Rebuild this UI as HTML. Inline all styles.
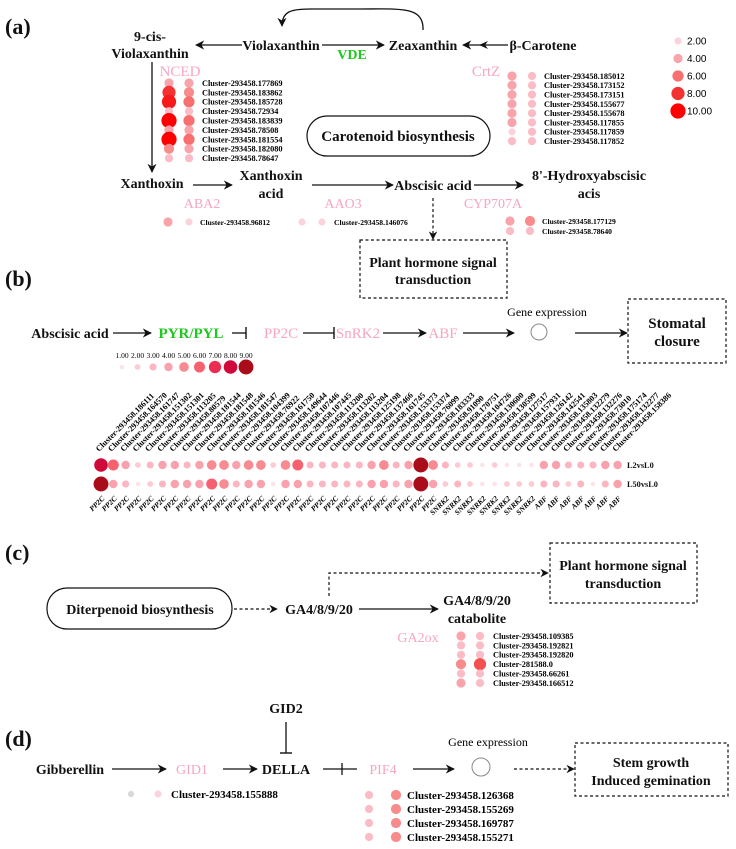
<!DOCTYPE html>
<html><head><meta charset="utf-8">
<style>
html,body{margin:0;padding:0;background:#fff;}
svg{display:block;font-family:"Liberation Serif",serif;}
.t{font-weight:bold;font-size:14px;fill:#111;text-anchor:middle;}
.p{font-size:14px;fill:#f7a6bf;text-anchor:middle;}
.g{font-weight:bold;font-size:14px;fill:#1ec81e;text-anchor:middle;}
.lab{font-weight:bold;font-size:22px;fill:#111;}
.cl{font-weight:bold;font-size:8.3px;fill:#111;}
.ln{stroke:#111;stroke-width:1.3;fill:none;}
.ds{stroke:#111;stroke-width:1.2;fill:none;stroke-dasharray:3,2.5;}
</style></head>
<body>
<svg id="fig" width="736" height="849" viewBox="0 0 736 849" xmlns="http://www.w3.org/2000/svg">
<defs>
<marker id="ah" viewBox="0 0 10 10" refX="9" refY="5" markerWidth="7" markerHeight="7" orient="auto-start-reverse"><path d="M0,0 L10,5 L0,10 L3,5 z" fill="#111"/></marker>
<marker id="bar" viewBox="0 0 4 12" refX="2" refY="6" markerWidth="4" markerHeight="12" markerUnits="userSpaceOnUse" orient="auto"><line x1="2" y1="0" x2="2" y2="12" stroke="#111" stroke-width="1.4"/></marker>
</defs>

<!-- (a) -->
<text class="lab" x="5" y="34">(a)</text>
<text class="t" x="150" y="41">9-cis-</text>
<text class="t" x="150" y="58">Violaxanthin</text>
<line class="ln" x1="242" y1="45" x2="196" y2="45" marker-end="url(#ah)"/>
<text class="t" x="281" y="50">Violaxanthin</text>
<line class="ln" x1="322" y1="45" x2="384" y2="45" marker-end="url(#ah)"/>
<text class="g" x="352" y="59">VDE</text>
<text class="t" x="423" y="50">Zeaxanthin</text>
<path class="ln" d="M423,30 C424,6 400,9 360,9 L310,9 C290,9 282,12 282,26" marker-end="url(#ah)"/>
<line class="ln" x1="508" y1="45" x2="463" y2="45" marker-end="url(#ah)"/>
<path d="M479,45 l9,-4 l-3,4 l3,4z" fill="#111"/>
<text class="t" x="543" y="50">β-Carotene</text>
<text class="p" x="180" y="76" style="font-size:15px">NCED</text>
<text class="p" x="486" y="76" style="font-size:15px">CrtZ</text>
<line class="ln" x1="152" y1="62" x2="152" y2="172" marker-end="url(#ah)"/>
<rect x="307" y="116" width="183" height="40" rx="20" fill="none" stroke="#111" stroke-width="1.2"/>
<text class="t" x="398" y="141" style="font-size:15px">Carotenoid biosynthesis</text>
<text class="t" x="152" y="188">Xanthoxin</text>
<line class="ln" x1="193" y1="185" x2="232" y2="185" marker-end="url(#ah)"/>
<text class="t" x="271" y="180">Xanthoxin</text>
<text class="t" x="271" y="198">acid</text>
<line class="ln" x1="312" y1="185" x2="393" y2="185" marker-end="url(#ah)"/>
<text class="t" x="433" y="190">Abscisic acid</text>
<line class="ln" x1="474" y1="185" x2="523" y2="185" marker-end="url(#ah)"/>
<text class="t" x="589" y="180">8'-Hydroxyabscisic</text>
<text class="t" x="589" y="198">acis</text>
<text class="p" x="202" y="208">ABA2</text>
<text class="p" x="343" y="208">AAO3</text>
<text class="p" x="493" y="208">CYP707A</text>
<line class="ds" x1="433" y1="198" x2="433" y2="239" marker-end="url(#ah)"/>
<rect class="ds" x="360" y="240" width="147" height="58"/>
<text class="t" x="433" y="267">Plant hormone signal</text>
<text class="t" x="433" y="284">transduction</text>

<!-- (b) -->
<text class="lab" x="5" y="286">(b)</text>
<text class="t" x="70" y="338">Abscisic acid</text>
<line class="ln" x1="113" y1="333" x2="151" y2="333" marker-end="url(#ah)"/>
<text class="g" x="191" y="338" style="font-size:15px">PYR/PYL</text>
<line class="ln" x1="232" y1="333" x2="246" y2="333" marker-end="url(#bar)"/>
<text class="p" x="281" y="338" style="font-size:15px">PP2C</text>
<line class="ln" x1="303" y1="333" x2="334" y2="333" marker-end="url(#bar)"/>
<text class="p" x="358" y="338" style="font-size:15px">SnRK2</text>
<line class="ln" x1="383" y1="333" x2="426" y2="333" marker-end="url(#ah)"/>
<text class="p" x="443" y="338" style="font-size:15px">ABF</text>
<line class="ln" x1="463" y1="333" x2="514" y2="333" marker-end="url(#ah)"/>
<text x="547" y="316" style="font-size:12px;text-anchor:middle">Gene expression</text>
<circle cx="539" cy="332" r="8" fill="none" stroke="#888"/>
<line class="ln" x1="575" y1="333" x2="627" y2="333" marker-end="url(#ah)"/>
<rect class="ds" x="628" y="299" width="98" height="64"/>
<text class="t" x="677" y="328" style="font-size:15px">Stomatal</text>
<text class="t" x="677" y="346" style="font-size:15px">closure</text>
<text class="cl" x="627" y="468">L2vsL0</text>
<text class="cl" x="627" y="487">L50vsL0</text>
<g id="bgrid"></g>

<!-- (c) -->
<text class="lab" x="5" y="560">(c)</text>
<rect class="ds" x="550" y="543" width="147" height="60"/>
<text class="t" x="623" y="570">Plant hormone signal</text>
<text class="t" x="623" y="588">transduction</text>
<path class="ds" d="M329,596 V573 H548" marker-end="url(#ah)"/>
<rect x="47" y="588" width="185" height="41" rx="20" fill="none" stroke="#111" stroke-width="1.2"/>
<text class="t" x="140" y="614">Diterpenoid biosynthesis</text>
<line class="ds" x1="234" y1="609" x2="277" y2="609" marker-end="url(#ah)"/>
<text class="t" x="319" y="614">GA4/8/9/20</text>
<line class="ln" x1="359" y1="609" x2="438" y2="609" marker-end="url(#ah)"/>
<text class="t" x="477" y="605">GA4/8/9/20</text>
<text class="t" x="477" y="623">catabolite</text>
<text class="p" x="418" y="642">GA2ox</text>

<!-- (d) -->
<text class="lab" x="5" y="746">(d)</text>
<text class="t" x="286" y="713">GID2</text>
<line class="ln" x1="286" y1="722" x2="286" y2="753" marker-end="url(#bar)"/>
<text class="t" x="70" y="774">Gibberellin</text>
<line class="ln" x1="112" y1="769" x2="166" y2="769" marker-end="url(#ah)"/>
<text class="p" x="192" y="774">GID1</text>
<line class="ln" x1="223" y1="769" x2="257" y2="769" marker-end="url(#ah)"/>
<text class="t" x="286" y="774">DELLA</text>
<line class="ln" x1="323" y1="769" x2="357" y2="769"/>
<line class="ln" x1="342" y1="763" x2="342" y2="775"/>
<text class="p" x="383" y="774">PIF4</text>
<line class="ln" x1="413" y1="769" x2="454" y2="769" marker-end="url(#ah)"/>
<text x="488" y="746" style="font-size:12px;text-anchor:middle">Gene expression</text>
<circle cx="481" cy="767" r="9" fill="none" stroke="#888"/>
<line class="ds" x1="514" y1="769" x2="574" y2="769" marker-end="url(#ah)"/>
<rect class="ds" x="575" y="743" width="153" height="53"/>
<text class="t" x="651" y="767">Stem growth</text>
<text class="t" x="651" y="785">Induced gemination</text>
<g id="dots"></g>
</svg>

<script>
// ---- data ----
const sizeLegendA = [2, 4, 6, 8, 10];
const ncedIds = ["Cluster-293458.177869","Cluster-293458.183862","Cluster-293458.185728","Cluster-293458.72934","Cluster-293458.183839","Cluster-293458.78508","Cluster-293458.181554","Cluster-293458.182080","Cluster-293458.78647"];
const ncedL2 = [4, 8, 9, 3, 10, 4, 10, 5, 3];
const ncedL50 = [4, 5, 6, 3, 6, 4, 6, 4, 3];
const crtzIds = ["Cluster-293458.185012","Cluster-293458.173152","Cluster-293458.173151","Cluster-293458.155677","Cluster-293458.155678","Cluster-293458.117855","Cluster-293458.117859","Cluster-293458.117852"];
const crtzL2 = [4, 4, 4, 4, 4, 4, 2, 3];
const crtzL50 = [3, 3, 3, 3, 3, 3, 3, 3];
const aba2Vals = [4, 2];
const aao3Vals = [2, 2];
const cypIds = ["Cluster-293458.177129","Cluster-293458.78640"];
const cypL2 = [4, 3];
const cypL50 = [5, 3];
const legendB = [1, 2, 3, 4, 5, 6, 7, 8, 9];
const bIds = ["186111","164570","161747","151302","151301","113205","80579","181544","181548","181546","181547","104399","76922","161750","149644","107446","107445","113200","113202","113204","125198","137466","161745","153373","153374","76099","183333","91090","170751","104726","130600","130599","127517","157931","126142","142541","135803","132279","132276","73010","175174","132277","158386"];
const bTypes = ["PP2C","PP2C","PP2C","PP2C","PP2C","PP2C","PP2C","PP2C","PP2C","PP2C","PP2C","PP2C","PP2C","PP2C","PP2C","PP2C","PP2C","PP2C","PP2C","PP2C","PP2C","PP2C","PP2C","PP2C","PP2C","PP2C","PP2C","PP2C","SNRK2","SNRK2","SNRK2","SNRK2","SNRK2","SNRK2","SNRK2","SNRK2","ABF","ABF","ABF","ABF","ABF","ABF","ABF"];
const bL2 = [8,6,4,2,3,4,4,3,4,5,5,4,5,5,2,5,6,3,3,3,3,3,4,5,3,4,9,5,3,2,2,1,2,1,1,1,4,4,3,3,3,4,4];
const bL50 = [9,4,3,1,2,3,4,4,4,6,5,3,4,4,1,4,4,3,3,3,3,3,4,4,3,4,9,4,2,3,2,1,1,2,2,2,3,3,2,3,1,3,4];
const gaIds = ["Cluster-293458.109385","Cluster-293458.192821","Cluster-293458.192820","Cluster-281588.0","Cluster-293458.66261","Cluster-293458.166512"];
const gaL2 = [4, 3, 3, 5, 3, 4];
const gaL50 = [3, 3, 3, 7, 3, 3];
const gid1Vals = [1, 2];
const pifIds = ["Cluster-293458.126368","Cluster-293458.155269","Cluster-293458.169787","Cluster-293458.155271"];
const pifL2 = [3, 3, 3, 3];
const pifL50 = [5, 5, 5, 5];

// ---- scales ----
const NS = "http://www.w3.org/2000/svg";
const colA = ["#fde6ec","#fcd3dc","#fbbcc6","#f9a4ab","#f88c8c","#f76f6f","#f55050","#f43232","#f71a1a","#ff0000"];
function rA(v){ return 2.6 + v * 0.5; }
function cA(v){ return colA[Math.max(0, Math.min(9, Math.round(v) - 1))]; }
const colB = ["#fbe3e9","#fccbd4","#fbb6c1","#f9a2ad","#f88a91","#f5616e","#ec2d52","#cf0a3a","#a90d1a"];
function rB(v){ return 1.6 + v * 0.65; }
function cB(v){ return colB[Math.max(0, Math.min(8, Math.round(v) - 1))]; }

const dots = document.getElementById('dots');
const bgrid = document.getElementById('bgrid');
function dot(parent, x, y, v, scale, name, grey){
  const c = document.createElementNS(NS, 'circle');
  
  
  c.setAttribute('cx', x); c.setAttribute('cy', y);
  c.setAttribute('r', scale === 'B' ? rB(v) : rA(v));
  c.setAttribute('fill', grey ? '#d8d8d8' : (scale === 'B' ? cB(v) : cA(v)));
  parent.appendChild(c);
}
function label(parent, x, y, s, size, name, extra){
  const t = document.createElementNS(NS, 'text');
  
  
  t.setAttribute('x', x); t.setAttribute('y', y);
  t.setAttribute('font-weight', 'bold');
  t.setAttribute('font-size', size);
  if (extra) for (const k in extra) t.setAttribute(k, extra[k]);
  t.textContent = s;
  parent.appendChild(t);
}
function matrix(ids, v1, v2, x1, x2, lx, y0, step, size, prefix){
  ids.forEach((id, i) => {
    const y = y0 + i * step;
    dot(dots, x1, y, v1[i], 'A', prefix + '-dot-l2');
    dot(dots, x2, y, v2[i], 'A', prefix + '-dot-l50');
    label(dots, lx, y + size * 0.35, id, size, prefix + '-cluster-label');
  });
}

// size legend (a)
sizeLegendA.forEach((v, i) => {
  const y = 41 + i * 17.5;
  dot(dots, 678, y, v, 'A', 'size-legend-dot');
  label(dots, 687, y + 3.5, v.toFixed(2), 10, 'size-legend-text', {'font-weight':'normal','font-family':'Liberation Sans, sans-serif'});
});
matrix(ncedIds, ncedL2, ncedL50, 169, 189, 202, 83, 9.4, 8.3, 'nced');
matrix(crtzIds, crtzL2, crtzL50, 512, 532, 544, 76, 9.3, 8.3, 'crtz');
dot(dots, 168, 222, aba2Vals[0], 'A', 'aba2-dot-l2');
dot(dots, 189, 222, aba2Vals[1], 'A', 'aba2-dot-l50');
label(dots, 200, 225, 'Cluster-293458.96812', 7.6, 'aba2-cluster-label');
dot(dots, 302, 222, aao3Vals[0], 'A', 'aao3-dot-l2');
dot(dots, 322, 222, aao3Vals[1], 'A', 'aao3-dot-l50');
label(dots, 334, 225, 'Cluster-293458.146076', 7.6, 'aao3-cluster-label');
cypIds.forEach((id, i) => {
  const y = 221 + i * 10;
  dot(dots, 510, y, cypL2[i], 'A', 'cyp-dot-l2');
  dot(dots, 530, y, cypL50[i], 'A', 'cyp-dot-l50');
  label(dots, 542, y + 3, id, 7.6, 'cyp-cluster-label');
});

// (b) legend
legendB.forEach((v, i) => {
  const x = 122 + i * 15.5;
  label(bgrid, x, 358, v.toFixed(2), 7.5, 'color-legend-text', {'font-weight':'normal','text-anchor':'middle'});
  dot(bgrid, x, 367, v, 'B', 'color-legend-dot');
});
// (b) grid
const bx0 = 101, bstep = 12.3;
bIds.forEach((id, i) => {
  const x = bx0 + i * bstep;
  label(bgrid, x - 2, 452, 'Cluster-293458.' + id, 8.2, 'column-label', {transform: 'rotate(-45 ' + (x - 2) + ' 452)'});
  dot(bgrid, x, 465, bL2[i], 'B', 'dot-l2');
  dot(bgrid, x, 484, bL50[i], 'B', 'dot-l50');
  label(bgrid, x + 4, 499, bTypes[i], 7.5, 'gene-type-label', {'font-style':'italic','text-anchor':'end',transform: 'rotate(-45 ' + (x + 4) + ' 499)'});
});

// (c)
matrix(gaIds, gaL2, gaL50, 461, 480, 493, 636, 9.4, 8.3, 'ga2ox');

// (d)
dot(dots, 131, 794, gid1Vals[0], 'A', 'gid1-dot-l2', true);
dot(dots, 158, 794, gid1Vals[1], 'A', 'gid1-dot-l50');
label(dots, 171, 798, 'Cluster-293458.155888', 11, 'gid1-cluster-label');
pifIds.forEach((id, i) => {
  const y = 795 + i * 14;
  dot(dots, 369, y, pifL2[i], 'A', 'pif4-dot-l2');
  dot(dots, 396, y, pifL50[i], 'A', 'pif4-dot-l50');
  label(dots, 407, y + 4, id, 11, 'pif4-cluster-label');
});
</script>
</body></html>
